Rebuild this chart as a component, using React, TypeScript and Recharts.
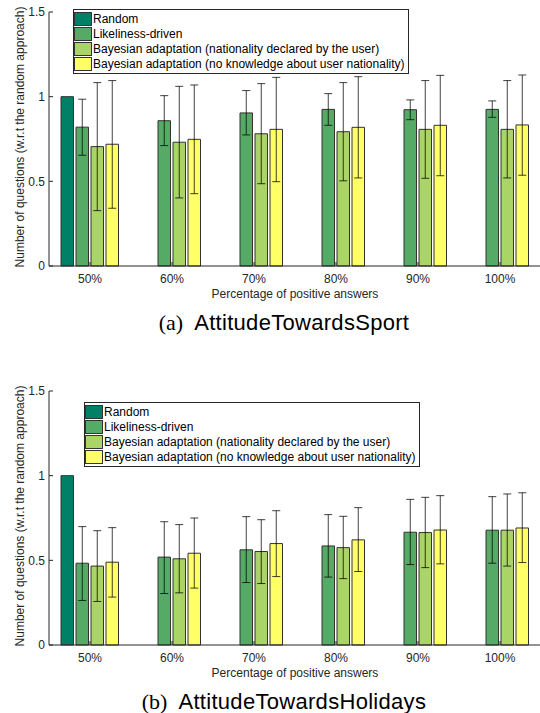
import { BarChart, Bar, XAxis, YAxis, ErrorBar } from 'recharts';

const categories = ['50%', '60%', '70%', '80%', '90%', '100%'];
const yTicks = [0, 0.5, 1, 1.5];

const seriesNames = [
  'Random',
  'Likeliness-driven',
  'Bayesian adaptation (nationality declared by the user)',
  'Bayesian adaptation (no knowledge about user nationality)',
];

// MATLAB "summer" colours
const COLORS = ['#008066', '#55aa66', '#aad466', '#ffff66'];

// (a) AttitudeTowardsSport
const sportRandom = [1, 0, 0, 0, 0, 0];
const sportLik = [0.82, 0.858, 0.904, 0.925, 0.923, 0.925];
const sportLikLow = [0.654, 0.711, 0.774, 0.831, 0.864, 0.878];
const sportLikHigh = [0.985, 1.006, 1.036, 1.018, 0.981, 0.975];
const sportNat = [0.705, 0.731, 0.781, 0.793, 0.807, 0.807];
const sportNatLow = [0.327, 0.402, 0.486, 0.503, 0.518, 0.52];
const sportNatHigh = [1.083, 1.061, 1.077, 1.083, 1.095, 1.095];
const sportNoNat = [0.719, 0.748, 0.807, 0.819, 0.831, 0.833];
const sportNoNatLow = [0.341, 0.427, 0.498, 0.52, 0.533, 0.536];
const sportNoNatHigh = [1.095, 1.069, 1.114, 1.118, 1.126, 1.128];

// (b) AttitudeTowardsHolidays
const holRandom = [1, 0, 0, 0, 0, 0];
const holLik = [0.483, 0.519, 0.562, 0.585, 0.666, 0.678];
const holLikLow = [0.263, 0.304, 0.369, 0.401, 0.475, 0.483];
const holLikHigh = [0.699, 0.728, 0.758, 0.77, 0.86, 0.876];
const holNat = [0.466, 0.509, 0.552, 0.575, 0.664, 0.678];
const holNatLow = [0.257, 0.308, 0.363, 0.392, 0.457, 0.466];
const holNatHigh = [0.675, 0.711, 0.74, 0.76, 0.872, 0.892];
const holNoNat = [0.489, 0.542, 0.599, 0.621, 0.679, 0.691];
const holNoNatLow = [0.283, 0.336, 0.404, 0.434, 0.479, 0.487];
const holNoNatHigh = [0.693, 0.75, 0.793, 0.811, 0.882, 0.899];

const SANS = '"Liberation Sans", Arial, Helvetica, sans-serif';
const AXIS = '#262626';

interface Series {
  random: number[];
  lik: number[];
  likLow: number[];
  likHigh: number[];
  nat: number[];
  natLow: number[];
  natHigh: number[];
  noNat: number[];
  noNatLow: number[];
  noNatHigh: number[];
}

function buildRows(s: Series) {
  return categories.map((cat, i) => ({
    cat,
    random: s.random[i],
    lik: s.lik[i],
    likErr: [s.lik[i] - s.likLow[i], s.likHigh[i] - s.lik[i]],
    nat: s.nat[i],
    natErr: [s.nat[i] - s.natLow[i], s.natHigh[i] - s.nat[i]],
    noNat: s.noNat[i],
    noNatErr: [s.noNat[i] - s.noNatLow[i], s.noNatHigh[i] - s.noNat[i]],
  }));
}

const errProps = { width: 4, stroke: '#000', strokeWidth: 1, strokeOpacity: 0.75, direction: 'y' as const };

interface PanelProps {
  top: number;
  series: Series;
  legendLeft: number;
  legendTop: number;
  letter: string;
  name: string;
}

function Panel({ top, series, legendLeft, legendTop, letter, name }: PanelProps) {
  const rows = buildRows(series);
  return (
    <>
      <div style={{ position: 'absolute', left: 0, top }}>
        <BarChart
          width={560}
          height={300}
          data={rows}
          margin={{ top: 12, right: 19, left: 0, bottom: 0 }}
          barSize={12.5}
          barGap={2.5}
          style={{ fontFamily: SANS }}
        >
          <XAxis
            dataKey="cat"
            height={34}
            tickSize={-4}
            tickMargin={12}
            stroke={AXIS}
            tick={{ fill: AXIS, fontSize: 12 }}
          />
          <YAxis
            width={49}
            domain={[0, 1.5]}
            ticks={yTicks}
            interval={0}
            tickSize={-4}
            tickMargin={8}
            stroke={AXIS}
            tick={{ fill: AXIS, fontSize: 12 }}
          />
          <Bar dataKey="random" fill={COLORS[0]} stroke="#333" strokeWidth={1} isAnimationActive={false} />
          <Bar dataKey="lik" fill={COLORS[1]} stroke="#333" strokeWidth={1} isAnimationActive={false}>
            <ErrorBar dataKey="likErr" {...errProps} />
          </Bar>
          <Bar dataKey="nat" fill={COLORS[2]} stroke="#333" strokeWidth={1} isAnimationActive={false}>
            <ErrorBar dataKey="natErr" {...errProps} />
          </Bar>
          <Bar dataKey="noNat" fill={COLORS[3]} stroke="#333" strokeWidth={1} isAnimationActive={false}>
            <ErrorBar dataKey="noNatErr" {...errProps} />
          </Bar>
        </BarChart>
      </div>

      {/* y label */}
      <div
        style={{
          position: 'absolute',
          left: 20 - 140,
          top: top + 137 - 8,
          width: 280,
          height: 16,
          lineHeight: '16px',
          textAlign: 'center',
          fontSize: 12,
          color: AXIS,
          transform: 'rotate(-90deg)',
          whiteSpace: 'nowrap',
        }}
      >
        Number of questions (w.r.t the random approach)
      </div>

      {/* x label */}
      <div
        style={{
          position: 'absolute',
          left: 49,
          width: 492,
          top: top + 287,
          lineHeight: '14px',
          textAlign: 'center',
          fontSize: 12,
          color: AXIS,
        }}
      >
        Percentage of positive answers
      </div>

      {/* Legend */}
      <div
        style={{
          position: 'absolute',
          left: legendLeft,
          top: legendTop,
          width: 334,
          height: 62,
          border: `1px solid ${AXIS}`,
          background: '#fff',
          paddingTop: 1,
          boxSizing: 'content-box',
        }}
      >
        {seriesNames.map((s, i) => (
          <div key={s} style={{ display: 'flex', alignItems: 'center', height: 15, fontSize: 12, color: '#000' }}>
            <div style={{ width: 16, height: 12, background: COLORS[i], border: '1px solid #333', marginRight: 1, flexShrink: 0 }} />
            <span style={{ whiteSpace: 'nowrap' }}>{s}</span>
          </div>
        ))}
      </div>

      {/* Caption */}
      <div
        style={{
          position: 'absolute',
          left: 0,
          width: 568,
          top: top + 311,
          lineHeight: '24px',
          textAlign: 'center',
          whiteSpace: 'nowrap',
          color: '#000',
        }}
      >
        <span style={{ fontFamily: '"Liberation Serif", "Times New Roman", serif', fontSize: 22, marginRight: 11 }}>
          ({letter})
        </span>
        <span style={{ fontFamily: SANS, fontSize: 22, letterSpacing: 0.3 }}>{name}</span>
      </div>
    </>
  );
}

export default function App() {
  return (
    <div
      style={{
        position: 'absolute',
        left: 0,
        top: 0,
        width: 540,
        height: 713,
        overflow: 'hidden',
        background: '#fff',
        fontFamily: SANS,
      }}
    >
      <Panel
        top={0}
        series={{
          random: sportRandom,
          lik: sportLik,
          likLow: sportLikLow,
          likHigh: sportLikHigh,
          nat: sportNat,
          natLow: sportNatLow,
          natHigh: sportNatHigh,
          noNat: sportNoNat,
          noNatLow: sportNoNatLow,
          noNatHigh: sportNoNatHigh,
        }}
        legendLeft={73}
        legendTop={9}
        letter="a"
        name="AttitudeTowardsSport"
      />
      <Panel
        top={379}
        series={{
          random: holRandom,
          lik: holLik,
          likLow: holLikLow,
          likHigh: holLikHigh,
          nat: holNat,
          natLow: holNatLow,
          natHigh: holNatHigh,
          noNat: holNoNat,
          noNatLow: holNoNatLow,
          noNatHigh: holNoNatHigh,
        }}
        legendLeft={84}
        legendTop={402}
        letter="b"
        name="AttitudeTowardsHolidays"
      />
    </div>
  );
}
